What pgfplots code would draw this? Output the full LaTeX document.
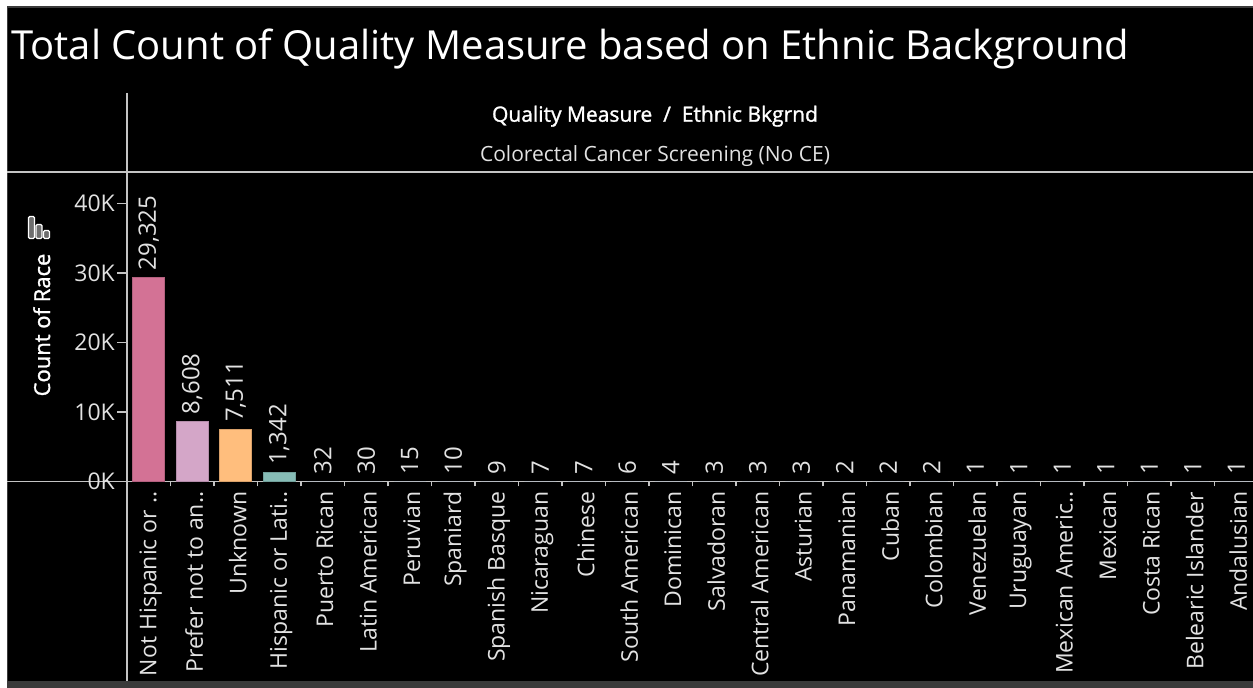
\documentclass[border=0pt]{standalone}
\usepackage{pgfplots}
\pgfplotsset{compat=1.18}
\usepackage{fontspec}
\setmainfont{Open Sans}
\newfontfamily\semibold[FakeBold=1.3]{Open Sans}

\definecolor{rule}{HTML}{C4C4C4}
\definecolor{txt}{HTML}{E2E2E2}
\definecolor{edge}{HTML}{3A3A3A}
\definecolor{iconfill}{HTML}{6E6E6E}
\definecolor{cPink}{HTML}{D37295}
\definecolor{cLav}{HTML}{D4A6C8}
\definecolor{cOrange}{HTML}{FFBE7D}
\definecolor{cTeal}{HTML}{86BCB6}
\definecolor{cBlue}{HTML}{4E79A7}

\newcommand{\fs}[1]{\fontsize{#1}{#1}\selectfont}

\begin{document}
\begin{tikzpicture}[x=1pt,y=1pt]
\useasboundingbox (0,0) rectangle (1253,688);
% page, dark panel and its frame
\fill[white] (0,0) rectangle (1253,688);
\fill[black] (7,0) rectangle (1253,682);
\fill[edge] (7,0) rectangle (1253,7);
\draw[edge, line width=1.5pt] (7.5,7) -- (7.5,681.2) -- (1253,681.2);

% title
\node[anchor=base west, inner sep=0pt, text=white] at (11,628)
  {\fs{40}Total Count of Quality Measure based on Ethnic Background};

% column headers
\node[anchor=base, inner sep=0pt, text=white] at (655,566.3)
  {\fs{21}\semibold Quality Measure\ \ /\ \ Ethnic Bkgrnd};
\node[anchor=base, inner sep=0pt, text=txt] at (655,526.3)
  {\fs{21}Colorectal Cancer Screening (No CE)};

% y axis title with its small chart icon
\node[anchor=base, rotate=90, inner sep=0pt, text=white] at (50,363)
  {\fs{22}\semibold Count of Race};
\begin{scope}[draw=white, fill=iconfill, line width=1.3pt, rounded corners=1.2pt]
  \filldraw (28.5,449.5) rectangle (34.5,471.5);
  \filldraw (36,449.5) rectangle (42,463.5);
  \filldraw (43.5,449.5) rectangle (49.5,457.5);
\end{scope}

% grid rules
\draw[rule, line width=1.6pt] (127,595) -- (127,7);
\draw[rule, line width=1.6pt] (7,515.7) -- (1253,515.7);
\draw[rule, line width=1.6pt] (7,206.5) -- (1253,206.5);

\begin{axis}[
  at={(127pt,206.5pt)}, anchor=south west,
  scale only axis, width=1131pt, height=309.5pt,
  xmin=-0.5, xmax=25.5, ymin=0, ymax=44532,
  clip=false,
  axis line style={draw=none},
  tick align=outside, tick pos=left,
  scaled y ticks=false,
  ytick={0,10000,20000,30000,40000},
  yticklabels={0K,10K,20K,30K,40K},
  major tick length=10pt,
  y tick style={rule, line width=1.4pt},
  yticklabel style={font=\fs{23}, text=txt, inner sep=2pt},
  xtick={0,...,25},
  x tick style={draw=none},
  minor xtick={0.5,1.5,...,24.5},
  minor tick length=5pt,
  minor x tick style={draw=rule, line width=1.4pt},
  xticklabels={Not Hispanic or ..,Prefer not to an..,Unknown,Hispanic or Lati..,Puerto Rican,Latin American,Peruvian,Spaniard,Spanish Basque,Nicaraguan,Chinese,South American,Dominican,Salvadoran,Central American,Asturian,Panamanian,Cuban,Colombian,Venezuelan,Uruguayan,Mexican Americ..,Mexican,Costa Rican,Belearic Islander,Andalusian},
  xticklabel style={font=\fs{23}, text=txt, rotate=90, anchor=east, inner sep=0pt, yshift=-2pt},
  ybar, bar width=32pt, bar shift=0pt,
  nodes near coords={\pgfmathprintnumber{\pgfplotspointmeta}},
  every node near coord/.append style={rotate=90, anchor=west, font=\fs{24}, text=txt, inner xsep=7pt, inner ysep=0pt},
  /pgf/number format/.cd, 1000 sep={,}, assume math mode=true,
]
\addplot[fill=cPink, draw=cPink!85!black, line width=0.8pt] coordinates {(0,29325)};
\addplot[fill=cLav, draw=cLav!85!black, line width=0.8pt] coordinates {(1,8608)};
\addplot[fill=cOrange, draw=cOrange!85!black, line width=0.8pt] coordinates {(2,7511)};
\addplot[fill=cTeal, draw=cTeal!85!black, line width=0.8pt] coordinates {(3,1342)};
\addplot[fill=cBlue, draw=none] coordinates {
  (4,32) (5,30) (6,15) (7,10) (8,9) (9,7) (10,7) (11,6) (12,4) (13,3) (14,3)
  (15,3) (16,2) (17,2) (18,2) (19,1) (20,1) (21,1) (22,1) (23,1) (24,1) (25,1)};
\end{axis}
\end{tikzpicture}
\end{document}
